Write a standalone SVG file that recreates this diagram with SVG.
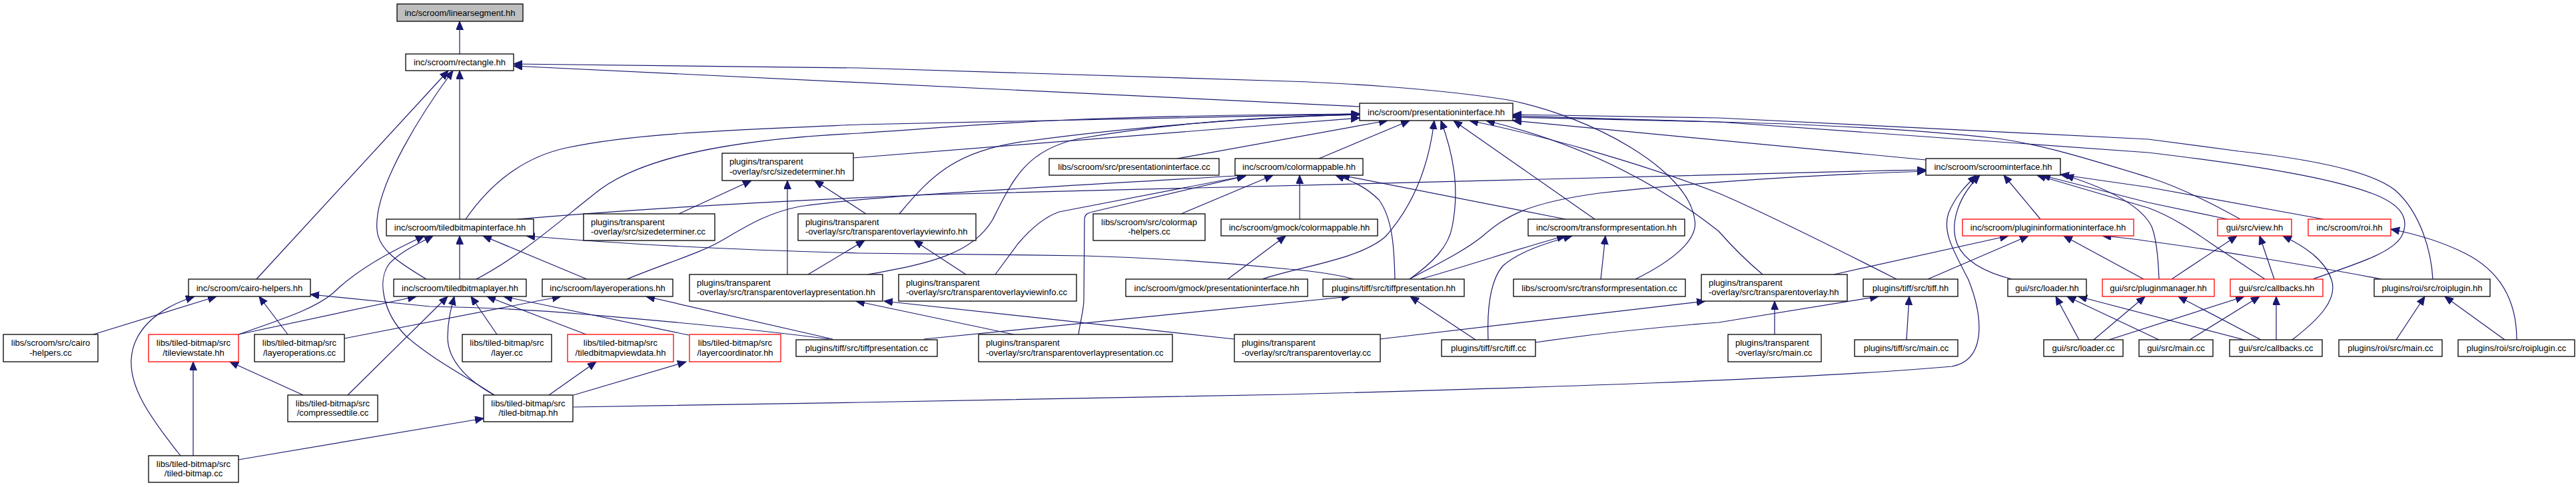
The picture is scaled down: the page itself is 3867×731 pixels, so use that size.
<svg xmlns="http://www.w3.org/2000/svg" width="3867" height="731" viewBox="0 0 3867 731">
<style>
.e{fill:none;stroke:#191970;stroke-width:1.2;marker-end:url(#a)}
.n rect{fill:#fff;stroke:#000;stroke-width:1.3}
.n.r rect{stroke:#ff0000}
.n.root rect{fill:#bfbfbf}
.n text{font-family:"Liberation Sans",Arial,sans-serif;font-size:13px;fill:#000}
.c text{text-anchor:middle}
</style>
<defs>
<marker id="a" markerWidth="14" markerHeight="12" refX="13" refY="5.5" orient="auto" markerUnits="userSpaceOnUse">
<path d="M0,0 L13,5.5 L0,11 z" fill="#191970" stroke="#191970" stroke-width="1"/>
</marker>
</defs>
<rect width="3867" height="731" fill="#fff"/>
<g id="edges">
<path class="e" d="M690,81 L690,32"/>
<path class="e" d="M2041,160 L771,99"/>
<path class="e" d="M2455,419 C2510,392 2550,360 2544,330 C2535,255 2390,175 2264,150 C2150,132 2000,124 1935,122 L1290,102 L771,96"/>
<path class="e" d="M385,419 L673,106"/>
<path class="e" d="M640,419 C600,395 568,375 566,345 C560,280 640,160 680,106"/>
<path class="e" d="M690,329 L690,106"/>
<path class="e" d="M699,329 C740,270 790,235 850,222 C950,200 1100,195 1290,187 L2041,171"/>
<path class="e" d="M715,419 C780,385 830,340 900,285 C960,240 1080,210 1290,200 C1450,190 1550,176 1935,172 L2041,171"/>
<path class="e" d="M1281,237 L2041,177"/>
<path class="e" d="M1350,321 C1400,260 1440,225 1540,212 C1700,190 1900,175 2041,172"/>
<path class="e" d="M1302,412 C1400,395 1460,380 1490,330 C1520,270 1540,225 1620,208 C1750,185 1900,175 2041,172"/>
<path class="e" d="M1980,238 L2116,181"/>
<path class="e" d="M1767,238 L2083,181"/>
<path class="e" d="M1895,419 C1950,400 2040,390 2080,355 C2120,310 2145,250 2153,181"/>
<path class="e" d="M1843,419 L1930,354"/>
<path class="e" d="M2094,419 C2093,380 2092,330 2070,300 C2050,280 2030,272 2005,263"/>
<path class="e" d="M2116,419 C2150,395 2175,370 2180,340 C2190,290 2185,240 2163,181"/>
<path class="e" d="M2116,419 C2170,390 2200,375 2225,355 C2260,325 2290,305 2400,290 C2600,268 2800,260 2891,257"/>
<path class="e" d="M2132,419 C2200,400 2290,370 2350,354"/>
<path class="e" d="M2234,510 C2232,460 2238,420 2256,399 C2280,378 2320,365 2360,354"/>
<path class="e" d="M2403,419 L2410,354"/>
<path class="e" d="M1387,509 L2027,445"/>
<path class="e" d="M2215,510 L2117,445"/>
<path class="e" d="M2305,514 C2400,500 2500,490 2580,484 L2820,445"/>
<path class="e" d="M2071,509 L2560,452"/>
<path class="e" d="M2664,502 L2664,452"/>
<path class="e" d="M2862,510 L2866,445"/>
<path class="e" d="M2646,412 C2620,390 2600,370 2580,347 C2470,260 2350,210 2231,181"/>
<path class="e" d="M2753,412 L3015,354"/>
<path class="e" d="M2847,419 C2780,385 2650,320 2580,290 C2450,240 2300,200 2206,181"/>
<path class="e" d="M2894,419 L3045,354"/>
<path class="e" d="M861,611 L1290,604 L1935,592 C2300,582 2700,570 2930,550 C2985,540 2975,470 2955,420 C2935,380 2915,350 2925,320 C2935,295 2950,280 2967,263"/>
<path class="e" d="M3020,419 C2985,410 2950,395 2938,366 C2928,340 2935,300 2972,263"/>
<path class="e" d="M3218,419 L3098,354"/>
<path class="e" d="M3121,510 L3086,445"/>
<path class="e" d="M3143,510 L3220,445"/>
<path class="e" d="M3241,510 L3103,445"/>
<path class="e" d="M3369,510 L3120,445"/>
<path class="e" d="M3166,510 L3369,445"/>
<path class="e" d="M3287,510 L3392,445"/>
<path class="e" d="M3417,510 L3417,445"/>
<path class="e" d="M3394,510 L3270,445"/>
<path class="e" d="M3597,510 L3640,445"/>
<path class="e" d="M3760,510 L3670,445"/>
<path class="e" d="M3778,510 C3778,460 3760,410 3700,380 C3660,360 3620,350 3589,344"/>
<path class="e" d="M3441,510 C3480,480 3510,450 3500,420 C3490,390 3460,370 3427,354"/>
<path class="e" d="M3414,419 L3392,354"/>
<path class="e" d="M3260,419 L3358,354"/>
<path class="e" d="M3652,419 C3650,380 3635,320 3595,285 C3560,258 3480,240 3361,227 L3225,209 L2580,177 L2271,172"/>
<path class="e" d="M3472,419 C3540,395 3590,380 3605,355 C3620,325 3600,305 3560,290 C3500,268 3400,250 3225,229 L2580,183 L2271,174"/>
<path class="e" d="M3363,329 C3320,305 3270,280 3225,266 C3140,240 3060,215 2991,207 C2850,192 2700,186 2580,183 L2271,176"/>
<path class="e" d="M2891,240 L2271,181"/>
<path class="e" d="M3488,329 L3225,281 L3093,262"/>
<path class="e" d="M3344,329 L3225,304 L3065,263"/>
<path class="e" d="M3400,419 L3320,366 C3290,345 3260,325 3225,312 L3058,263"/>
<path class="e" d="M3241,419 C3240,390 3238,360 3230,340 C3215,310 3170,285 3100,263"/>
<path class="e" d="M3063,329 L3008,263"/>
<path class="e" d="M3575,419 C3450,395 3300,372 3225,362 C3200,358 3180,356 3156,354"/>
<path class="e" d="M358,502 L625,445"/>
<path class="e" d="M358,502 C420,480 470,465 500,440 C530,410 580,380 637,354"/>
<path class="e" d="M742,593 C700,565 650,540 610,505 C575,470 565,420 585,395 C605,375 630,365 650,354"/>
<path class="e" d="M690,419 L690,354"/>
<path class="e" d="M881,419 L725,354"/>
<path class="e" d="M2032,419 C2000,410 1960,406 1935,404 C1800,390 1700,386 1627,384 C1500,382 1350,381 1290,380 C1100,375 950,368 790,354"/>
<path class="e" d="M941,419 C1000,395 1050,380 1080,363 C1120,340 1150,320 1200,310 C1300,295 1500,285 1870,263"/>
<path class="e" d="M776,329 C1000,310 1200,300 1400,292 C1700,282 2300,265 2891,255"/>
<path class="e" d="M1450,412 L1372,361"/>
<path class="e" d="M1494,412 L1528,366 C1550,340 1570,325 1590,318 L1870,264"/>
<path class="e" d="M1619,502 C1622,480 1627,465 1627,450 L1628,330 C1628,322 1632,320 1640,318 L1870,264"/>
<path class="e" d="M1773,321 L1911,263"/>
<path class="e" d="M1951,329 L1951,263"/>
<path class="e" d="M2350,329 L2013,263"/>
<path class="e" d="M2394,329 L2182,181"/>
<path class="e" d="M1019,321 L1128,271"/>
<path class="e" d="M1182,412 L1182,271"/>
<path class="e" d="M1300,321 L1223,271"/>
<path class="e" d="M1213,412 L1298,361"/>
<path class="e" d="M1522,502 L1285,452"/>
<path class="e" d="M1853,509 L1327,452"/>
<path class="e" d="M517,508 L842,445"/>
<path class="e" d="M1250,509 L970,445"/>
<path class="e" d="M1245,509 C1100,490 950,478 880,472 C780,463 700,461 645,460 L466,442"/>
<path class="e" d="M522,593 L672,445"/>
<path class="e" d="M742,593 C700,570 672,540 672,506 C672,480 678,460 682,445"/>
<path class="e" d="M746,502 L707,445"/>
<path class="e" d="M880,502 L731,445"/>
<path class="e" d="M1034,503 L756,445"/>
<path class="e" d="M140,502 L325,445"/>
<path class="e" d="M271,684 C220,620 195,580 197,540 C199,500 230,465 292,445"/>
<path class="e" d="M290,684 L290,543"/>
<path class="e" d="M432,502 L389,445"/>
<path class="e" d="M455,593 L345,543"/>
<path class="e" d="M861,593 L1030,543"/>
<path class="e" d="M824,593 L895,543"/>
<path class="e" d="M358,690 L726,628"/>
</g>
<g id="n1" class="n c root"><rect x="596" y="6" width="189" height="26"/><text x="690.5" y="23.5">inc/scroom/linearsegment.hh</text></g>
<g id="n2" class="n c"><rect x="609" y="81" width="162" height="25"/><text x="690" y="98">inc/scroom/rectangle.hh</text></g>
<g id="n3" class="n c"><rect x="2041" y="155" width="230" height="26"/><text x="2156" y="172.5">inc/scroom/presentationinterface.hh</text></g>
<g id="n4" class="n c"><rect x="2891" y="238" width="202" height="25"/><text x="2992" y="255">inc/scroom/scroominterface.hh</text></g>
<g id="n5" class="n c"><rect x="1854" y="238" width="192" height="25"/><text x="1950" y="255">inc/scroom/colormappable.hh</text></g>
<g id="n6" class="n c"><rect x="1575" y="238" width="255" height="25"/><text x="1702.5" y="255">libs/scroom/src/presentationinterface.cc</text></g>
<g id="n7" class="n"><rect x="1084" y="230" width="197" height="41"/><text x="1095" y="247">plugins/transparent</text><text x="1095" y="261.5">-overlay/src/sizedeterminer.hh</text></g>
<g id="n8" class="n c"><rect x="580" y="329" width="221" height="25"/><text x="690.5" y="346">inc/scroom/tiledbitmapinterface.hh</text></g>
<g id="n9" class="n"><rect x="876" y="321" width="197" height="40"/><text x="887" y="337.5">plugins/transparent</text><text x="887" y="352">-overlay/src/sizedeterminer.cc</text></g>
<g id="n10" class="n"><rect x="1198" y="321" width="267" height="40"/><text x="1209" y="337.5">plugins/transparent</text><text x="1209" y="352">-overlay/src/transparentoverlayviewinfo.hh</text></g>
<g id="n11" class="n c"><rect x="1641" y="321" width="168" height="40"/><text x="1725" y="337.5">libs/scroom/src/colormap</text><text x="1725" y="352">-helpers.cc</text></g>
<g id="n12" class="n c"><rect x="1833" y="329" width="235" height="25"/><text x="1950.5" y="346">inc/scroom/gmock/colormappable.hh</text></g>
<g id="n13" class="n c"><rect x="2294" y="329" width="235" height="25"/><text x="2411.5" y="346">inc/scroom/transformpresentation.hh</text></g>
<g id="n14" class="n c r"><rect x="2946" y="329" width="257" height="25"/><text x="3074.5" y="346">inc/scroom/plugininformationinterface.hh</text></g>
<g id="n15" class="n c r"><rect x="3329" y="329" width="111" height="25"/><text x="3384.5" y="346">gui/src/view.hh</text></g>
<g id="n16" class="n c r"><rect x="3465" y="329" width="124" height="25"/><text x="3527" y="346">inc/scroom/roi.hh</text></g>
<g id="n17" class="n c"><rect x="283" y="419" width="183" height="26"/><text x="374.5" y="436.5">inc/scroom/cairo-helpers.hh</text></g>
<g id="n18" class="n c"><rect x="591" y="419" width="199" height="26"/><text x="690.5" y="436.5">inc/scroom/tiledbitmaplayer.hh</text></g>
<g id="n19" class="n c"><rect x="814" y="419" width="196" height="26"/><text x="912" y="436.5">inc/scroom/layeroperations.hh</text></g>
<g id="n20" class="n"><rect x="1035" y="412" width="290" height="40"/><text x="1046" y="428.5">plugins/transparent</text><text x="1046" y="443">-overlay/src/transparentoverlaypresentation.hh</text></g>
<g id="n21" class="n"><rect x="1349" y="412" width="267" height="40"/><text x="1360" y="428.5">plugins/transparent</text><text x="1360" y="443">-overlay/src/transparentoverlayviewinfo.cc</text></g>
<g id="n22" class="n c"><rect x="1690" y="419" width="273" height="26"/><text x="1826.5" y="436.5">inc/scroom/gmock/presentationinterface.hh</text></g>
<g id="n23" class="n c"><rect x="1986" y="419" width="212" height="26"/><text x="2092" y="436.5">plugins/tiff/src/tiffpresentation.hh</text></g>
<g id="n24" class="n c"><rect x="2272" y="419" width="258" height="26"/><text x="2401" y="436.5">libs/scroom/src/transformpresentation.cc</text></g>
<g id="n25" class="n"><rect x="2554" y="412" width="219" height="40"/><text x="2565" y="428.5">plugins/transparent</text><text x="2565" y="443">-overlay/src/transparentoverlay.hh</text></g>
<g id="n26" class="n c"><rect x="2797" y="419" width="142" height="26"/><text x="2868" y="436.5">plugins/tiff/src/tiff.hh</text></g>
<g id="n27" class="n c"><rect x="3014" y="419" width="118" height="26"/><text x="3073" y="436.5">gui/src/loader.hh</text></g>
<g id="n28" class="n c r"><rect x="3156" y="419" width="168" height="26"/><text x="3240" y="436.5">gui/src/pluginmanager.hh</text></g>
<g id="n29" class="n c r"><rect x="3348" y="419" width="139" height="26"/><text x="3417.5" y="436.5">gui/src/callbacks.hh</text></g>
<g id="n30" class="n c"><rect x="3564" y="419" width="174" height="26"/><text x="3651" y="436.5">plugins/roi/src/roiplugin.hh</text></g>
<g id="n31" class="n c"><rect x="5" y="502" width="142" height="41"/><text x="76" y="519">libs/scroom/src/cairo</text><text x="76" y="533.5">-helpers.cc</text></g>
<g id="n32" class="n c r"><rect x="223" y="502" width="135" height="41"/><text x="290.5" y="519">libs/tiled-bitmap/src</text><text x="290.5" y="533.5">/tileviewstate.hh</text></g>
<g id="n33" class="n c"><rect x="382" y="502" width="135" height="41"/><text x="449.5" y="519">libs/tiled-bitmap/src</text><text x="449.5" y="533.5">/layeroperations.cc</text></g>
<g id="n34" class="n c"><rect x="694" y="502" width="134" height="41"/><text x="761" y="519">libs/tiled-bitmap/src</text><text x="761" y="533.5">/layer.cc</text></g>
<g id="n35" class="n c r"><rect x="852" y="502" width="159" height="41"/><text x="931.5" y="519">libs/tiled-bitmap/src</text><text x="931.5" y="533.5">/tiledbitmapviewdata.hh</text></g>
<g id="n36" class="n c r"><rect x="1035" y="502" width="137" height="41"/><text x="1103.5" y="519">libs/tiled-bitmap/src</text><text x="1103.5" y="533.5">/layercoordinator.hh</text></g>
<g id="n37" class="n c"><rect x="1195" y="510" width="212" height="25"/><text x="1301" y="527">plugins/tiff/src/tiffpresentation.cc</text></g>
<g id="n38" class="n"><rect x="1469" y="502" width="291" height="41"/><text x="1480" y="519">plugins/transparent</text><text x="1480" y="533.5">-overlay/src/transparentoverlaypresentation.cc</text></g>
<g id="n39" class="n"><rect x="1853" y="502" width="219" height="41"/><text x="1864" y="519">plugins/transparent</text><text x="1864" y="533.5">-overlay/src/transparentoverlay.cc</text></g>
<g id="n40" class="n c"><rect x="2164" y="510" width="141" height="25"/><text x="2234.5" y="527">plugins/tiff/src/tiff.cc</text></g>
<g id="n41" class="n"><rect x="2594" y="502" width="140" height="41"/><text x="2605" y="519">plugins/transparent</text><text x="2605" y="533.5">-overlay/src/main.cc</text></g>
<g id="n42" class="n c"><rect x="2784" y="510" width="155" height="25"/><text x="2861.5" y="527">plugins/tiff/src/main.cc</text></g>
<g id="n43" class="n c"><rect x="3068" y="510" width="119" height="25"/><text x="3127.5" y="527">gui/src/loader.cc</text></g>
<g id="n44" class="n c"><rect x="3211" y="510" width="111" height="25"/><text x="3266.5" y="527">gui/src/main.cc</text></g>
<g id="n45" class="n c"><rect x="3347" y="510" width="139" height="25"/><text x="3416.5" y="527">gui/src/callbacks.cc</text></g>
<g id="n46" class="n c"><rect x="3511" y="510" width="155" height="25"/><text x="3588.5" y="527">plugins/roi/src/main.cc</text></g>
<g id="n47" class="n c"><rect x="3690" y="510" width="175" height="25"/><text x="3777.5" y="527">plugins/roi/src/roiplugin.cc</text></g>
<g id="n48" class="n c"><rect x="432" y="593" width="135" height="40"/><text x="499.5" y="609.5">libs/tiled-bitmap/src</text><text x="499.5" y="624">/compressedtile.cc</text></g>
<g id="n49" class="n c"><rect x="726" y="593" width="134" height="40"/><text x="793" y="609.5">libs/tiled-bitmap/src</text><text x="793" y="624">/tiled-bitmap.hh</text></g>
<g id="n50" class="n c"><rect x="223" y="684" width="135" height="40"/><text x="290.5" y="700.5">libs/tiled-bitmap/src</text><text x="290.5" y="715">/tiled-bitmap.cc</text></g>
</svg>
